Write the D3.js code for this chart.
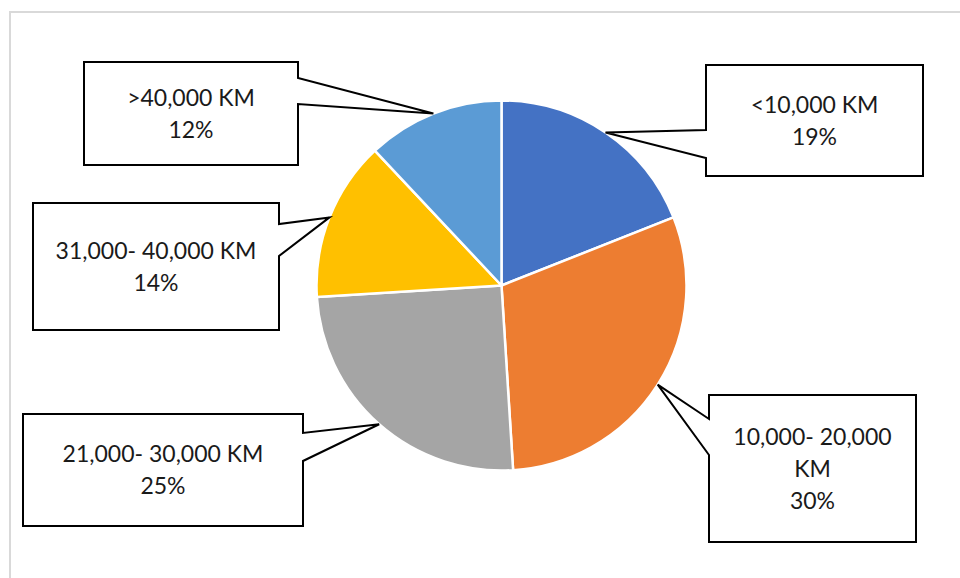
<!DOCTYPE html>
<html>
<head>
<meta charset="utf-8">
<script src="https://cdn.jsdelivr.net/npm/d3@7"></script>
<style>
  html, body { margin: 0; padding: 0; background: #fff; }
  svg { display: block; }
</style>
</head>
<body>
<svg id="chart" width="960" height="578"></svg>
<script>
// Distance bands and their share of the total
const categories = ["<10,000 KM", "10,000- 20,000 KM", "21,000- 30,000 KM", "31,000- 40,000 KM", ">40,000 KM"];
const values = [19, 30, 25, 14, 12];
const colors = ["#4472C4", "#ED7D31", "#A5A5A5", "#FFC000", "#5B9BD5"];
// Lines of text shown in each callout
const labelLines = [
  ["<10,000 KM", "19%"],
  ["10,000- 20,000", "KM", "30%"],
  ["21,000- 30,000 KM", "25%"],
  ["31,000- 40,000 KM", "14%"],
  [">40,000 KM", "12%"]
];

const W = 960, H = 578;
const svg = d3.select("#chart");

// chart area frame
svg.append("rect")
  .attr("x", 10).attr("y", 12)
  .attr("width", W).attr("height", H)
  .attr("fill", "#fff")
  .attr("stroke", "#d9d9d9").attr("stroke-width", 2);

const cx = 501.5, cy = 285.5, R = 185;

const pie = d3.pie().sort(null).value(d => d)(values);
const arc = d3.arc().innerRadius(0).outerRadius(R);
const edge = d3.arc().innerRadius(R).outerRadius(R);

const g = svg.append("g").attr("transform", `translate(${cx},${cy})`);
g.selectAll("path.slice")
  .data(pie)
  .join("path")
  .attr("class", "slice")
  .attr("d", arc)
  .attr("fill", (d, i) => colors[i])
  .attr("stroke", "#fff")
  .attr("stroke-width", 2.5)
  .attr("stroke-linejoin", "round");

// callout boxes: rectangle plus a wedge that points at the slice edge
const boxes = [
  { x: 706, y: 65,  w: 217, h: 111, side: "left",  a: 65, b: 93 },
  { x: 709, y: 395, w: 207, h: 147, side: "left",  a: 24, b: 60 },
  { x: 23,  y: 414, w: 280, h: 112, side: "right", a: 19, b: 47 },
  { x: 33,  y: 203, w: 246, h: 127, side: "right", a: 21, b: 53 },
  { x: 84,  y: 62,  w: 214, h: 103, side: "right", a: 16, b: 42 }
];

const lineH = 32;
const fontSize = 23;

pie.forEach((p, i) => {
  const bx = boxes[i];
  const mid = (p.startAngle + p.endAngle) / 2;
  const c = edge.centroid({ startAngle: mid, endAngle: mid });
  const tx = cx + c[0], ty = cy + c[1];
  const L = bx.x, T = bx.y, Rt = bx.x + bx.w, B = bx.y + bx.h;
  let dPath;
  if (bx.side === "right") {
    dPath = `M${L},${T}H${Rt}V${T + bx.a}L${tx},${ty}L${Rt},${T + bx.b}V${B}H${L}Z`;
  } else {
    dPath = `M${L},${T}H${Rt}V${B}H${L}V${T + bx.b}L${tx},${ty}L${L},${T + bx.a}Z`;
  }
  svg.append("path")
    .attr("d", dPath)
    .attr("fill", "#fff")
    .attr("stroke", "#000")
    .attr("stroke-width", 2)
    .attr("stroke-linejoin", "miter");

  const lines = labelLines[i];
  const n = lines.length;
  const midY = T + bx.h / 2;
  const t = svg.append("text")
    .attr("font-family", "Lato, 'Open Sans', sans-serif")
    .attr("font-size", fontSize)
    .attr("fill", "#1a1a1a")
    .attr("text-anchor", "middle");
  lines.forEach((ln, k) => {
    t.append("tspan")
      .attr("x", L + bx.w / 2)
      .attr("y", midY + (k - (n - 1) / 2) * lineH + 8)
      .text(ln);
  });
});
</script>
</body>
</html>
